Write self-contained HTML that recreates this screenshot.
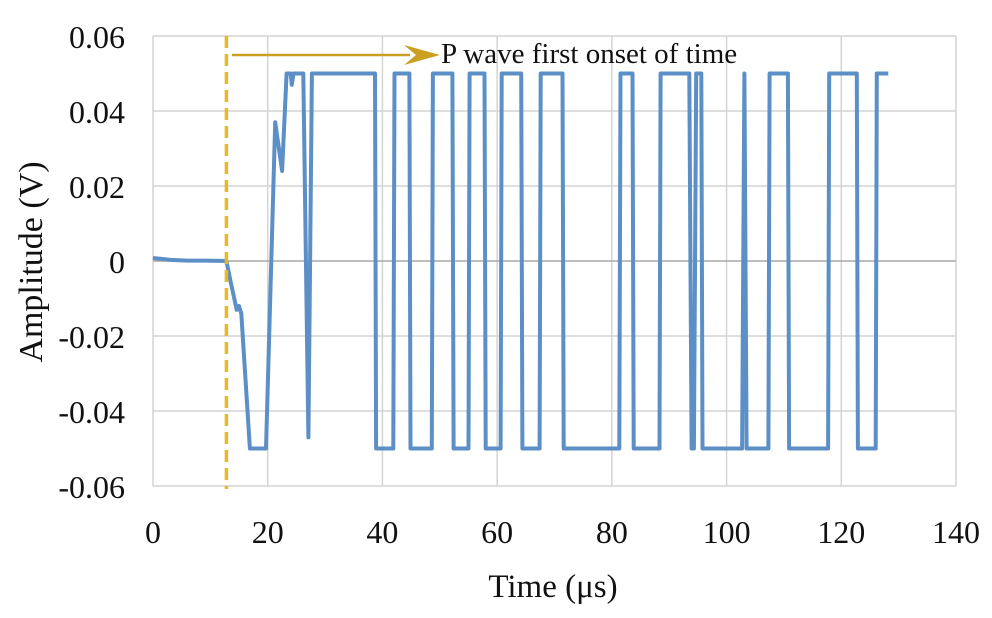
<!DOCTYPE html>
<html><head><meta charset="utf-8"><style>
html,body{margin:0;padding:0;background:#fff;}
svg{display:block;font-family:"Liberation Serif",serif;}
</style></head><body>
<svg id="chart" width="992" height="618" viewBox="0 0 992 618">
<g id="grid"></g>
<g id="ticks"></g>
<path id="series" fill="none" stroke="#5b8fc6" stroke-width="4" stroke-linejoin="round"/>
<line id="onset" stroke="#e8b828" stroke-width="3.5" stroke-dasharray="12,6"/>
<line x1="232" y1="55" x2="410" y2="55" stroke="#c9a020" stroke-width="2.5"/>
<polygon points="440,55 404,45 416,55 404,65" fill="#c9a020"/>
<text x="441" y="63" font-size="29" fill="#111">P wave first onset of time</text>
<text x="553" y="597" font-size="33" text-anchor="middle" fill="#111">Time (μs)</text>
<text transform="translate(42,262) rotate(-90)" font-size="34" text-anchor="middle" fill="#111">Amplitude (V)</text>
</svg>
<script>
const xTicks=[0,20,40,60,80,100,120,140];
const yTicks=[-0.06,-0.04,-0.02,0,0.02,0.04,0.06];
const yTickLabels=["-0.06","-0.04","-0.02","0","0.02","0.04","0.06"];
const onsetTime=12.8;
const times=[0,3,6,9,12.8,13.6,14.6,15.0,15.4,16.9,19.7,21.3,22.5,23.3,24.0,24.2,24.5,26.2,27.1,27.7,38.7,38.9,41.9,42.1,44.7,44.9,48.6,48.8,52.2,52.4,55.0,55.2,57.8,58.0,60.6,60.8,64.2,64.4,67.4,67.6,71.4,71.6,81.3,81.5,83.6,83.8,88.3,88.5,93.5,93.9,94.3,94.7,95.6,95.8,102.7,103.1,103.5,107.3,107.5,110.7,110.9,117.7,117.9,122.7,122.9,126.0,126.2,128.2];
const values=[0.0008,0.0003,0.0001,0.0001,0,-0.006,-0.013,-0.012,-0.014,-0.05,-0.05,0.037,0.024,0.05,0.05,0.047,0.05,0.05,-0.047,0.05,0.05,-0.05,-0.05,0.05,0.05,-0.05,-0.05,0.05,0.05,-0.05,-0.05,0.05,0.05,-0.05,-0.05,0.05,0.05,-0.05,-0.05,0.05,0.05,-0.05,-0.05,0.05,0.05,-0.05,-0.05,0.05,0.05,-0.05,-0.05,0.05,0.05,-0.05,-0.05,0.05,-0.05,-0.05,0.05,0.05,-0.05,-0.05,0.05,0.05,-0.05,-0.05,0.05,0.05];
const X0=153,X1=956,Y0=486,Y1=36;
function xs(t){return X0+(t-0)/(140-0)*(X1-X0);}
function ys(v){return Y0-(v+0.06)/0.12*(Y0-Y1);}
const NS="http://www.w3.org/2000/svg";
const grid=document.getElementById('grid'),tk=document.getElementById('ticks');
xTicks.forEach(t=>{
 const l=document.createElementNS(NS,'line');
 
 
 l.setAttribute('x1',xs(t));l.setAttribute('x2',xs(t));l.setAttribute('y1',Y1);l.setAttribute('y2',Y0);
 l.setAttribute('stroke','#d4d4d4');l.setAttribute('stroke-width','1.5');grid.appendChild(l);
 const tx=document.createElementNS(NS,'text');
 
 
 tx.setAttribute('x',xs(t));tx.setAttribute('y',543);tx.setAttribute('font-size','32');tx.setAttribute('text-anchor','middle');tx.setAttribute('fill','#111');
 tx.textContent=t;tk.appendChild(tx);
});
yTicks.forEach((v,i)=>{
 const l=document.createElementNS(NS,'line');
 
 
 l.setAttribute('x1',X0);l.setAttribute('x2',X1);l.setAttribute('y1',ys(v));l.setAttribute('y2',ys(v));
 l.setAttribute('stroke',v===0?'#a8a8a8':'#d4d4d4');l.setAttribute('stroke-width','1.5');grid.appendChild(l);
 const tx=document.createElementNS(NS,'text');
 
 
 tx.setAttribute('x',125);tx.setAttribute('y',ys(v)+12);tx.setAttribute('font-size','32');tx.setAttribute('text-anchor','end');tx.setAttribute('fill','#111');
 tx.textContent=yTickLabels[i];tk.appendChild(tx);
});
let d='';
times.forEach((t,i)=>{d+=(i?'L':'M')+xs(t).toFixed(1)+','+ys(values[i]).toFixed(1);});
document.getElementById('series').setAttribute('d',d);
const on=document.getElementById('onset');
on.setAttribute('x1',xs(onsetTime));on.setAttribute('x2',xs(onsetTime));on.setAttribute('y1',Y1);on.setAttribute('y2',Y0+3);
</script>
</body></html>
